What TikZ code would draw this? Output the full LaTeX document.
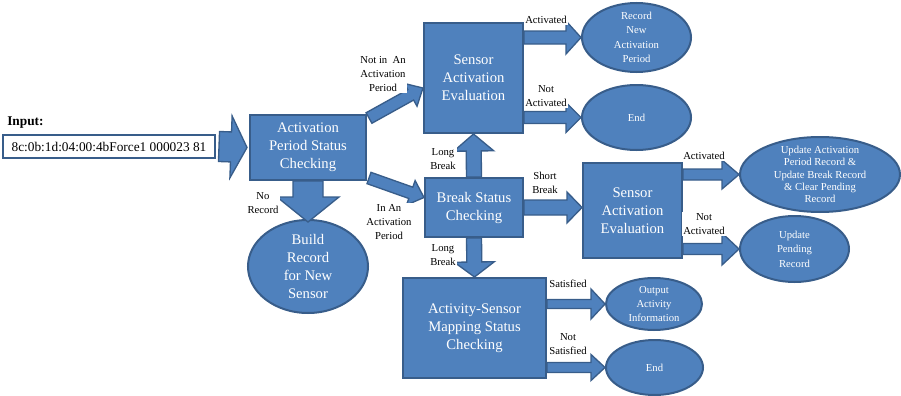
\documentclass[tikz,border=0pt]{standalone}
\usepackage{fontspec}
\setmainfont{Liberation Serif}
\usepackage{tikz}
\usetikzlibrary{shapes.geometric,calc}

\definecolor{boxblue}{HTML}{4F81BD}
\definecolor{boxline}{HTML}{385D8A}
\newcommand{\px}{0.75pt}

% block arrow: shaft half width, head half width, head length, from, to
\newcommand{\blockarrow}[5]{%
  \path #4; \pgfgetlastxy{\bax}{\bay}
  \path #5; \pgfgetlastxy{\bbx}{\bby}
  \pgfmathsetmacro{\barang}{atan2(\bby-\bay,\bbx-\bax)}
  \pgfmathsetmacro{\barlen}{veclen(\bbx-\bax,\bby-\bay)}
  \draw[bigarrow,shift={(\bax,\bay)},rotate=\barang]
    (0pt,{#1*\px}) -- ({\barlen*1pt-#3*\px},{#1*\px}) -- ({\barlen*1pt-#3*\px},{#2*\px})
    -- ({\barlen*1pt},0pt) -- ({\barlen*1pt-#3*\px},{-#2*\px}) -- ({\barlen*1pt-#3*\px},{-#1*\px})
    -- (0pt,{-#1*\px}) -- cycle;
}

\begin{document}
\begin{tikzpicture}[x=0.75pt,y=-0.75pt,
    dims/.style 2 args={minimum width=#1*\px,minimum height=#2*\px},
    box/.style={draw=boxline,fill=boxblue,line width=1.5pt,text=white,align=center,
                font=\fontsize{11}{13.5}\selectfont,inner sep=0pt},
    oval/.style={ellipse,draw=boxline,fill=boxblue,line width=1.5pt,inner sep=0pt},
    oval label/.style={text=white,align=center,font=\fontsize{8}{10.8}\selectfont},
    ovaltext/.style={label={[oval label]center:{#1}}},
    bigarrow/.style={draw=boxline,fill=boxblue,line width=1pt,line join=miter},
    lbl/.style={align=center,font=\fontsize{8}{10.8}\selectfont,fill=white,inner sep=1pt}]

  \useasboundingbox (0,0) rectangle (901,396);

  \node[anchor=west,font=\bfseries\fontsize{10}{12}\selectfont,inner sep=0pt] (inputlbl) at (7,123) {Input:};
  \node[draw=boxline,line width=1.5pt,fill=white,dims={212}{23},inner sep=0pt,
        font=\fontsize{10}{12}\selectfont] (input) at (109,146.5) {8c:0b:1d:04:00:4bForce1 000023 81};

  \node[box,dims={116}{65}] (apsc) at (308,147.5) {Activation\\Period Status\\Checking};
  \node[oval,dims={120}{93},label={[oval label,font=\fontsize{11}{13.3}\selectfont]center:{Build\\Record\\for New\\Sensor}}] (build) at (308,266.5) {};

  \node[box,dims={99}{110}] (sae) at (473.5,78) {Sensor\\Activation\\Evaluation};
  \node[oval,dims={109}{69},ovaltext={Record\\New\\Activation\\Period}] (rec) at (636.5,37.5) {};
  \node[oval,dims={109}{65},ovaltext={End}] (endtop) at (636.5,117.5) {};

  \node[box,dims={98}{59}] (bsc) at (474,207.5) {Break Status\\Checking};
  \node[box,dims={99}{95}] (sae2) at (632.5,210.5) {Sensor\\Activation\\Evaluation};
  \node[oval,dims={160}{75},label={[oval label,font=\fontsize{8}{9.3}\selectfont]center:{Update Activation\\Period Record \&\\Update Break Record\\\& Clear Pending\\Record}}] (upd) at (820,174.5) {};
  \node[oval,dims={109}{66},ovaltext={Update\\Pending\\Record}] (pend) at (794.5,249) {};

  \node[box,dims={143}{100}] (asmsc) at (474.5,328) {Activity-Sensor\\Mapping Status\\Checking};
  \node[oval,dims={96}{52},ovaltext={Output\\Activity\\Information}] (outp) at (654,304) {};
  \node[oval,dims={97}{55},ovaltext={End}] (endbot) at (654.5,367.5) {};

  \blockarrow{15}{31}{16}{($(input.east)+(3,0)$)}{($(apsc.west)+(-2,0)$)}
  \blockarrow{15}{31}{25}{(apsc.south)}{($(build.north)+(0,3)$)}
  \blockarrow{6}{13}{14}{($(apsc.north east)+(2,4)$)}{($(sae.west)+(0,10)$)}
  \blockarrow{6}{13}{14}{($(apsc.south east)+(2,-3)$)}{($(bsc.west)+(0,-10)$)}
  \blockarrow{6.5}{16.5}{15}{(sae.east |- rec.west)}{(rec.west)}
  \blockarrow{6}{15}{15}{(sae.east |- endtop.west)}{(endtop.west)}
  \blockarrow{7.5}{20}{17}{(bsc.north)}{(sae.south)}
  \blockarrow{7.5}{15.5}{15}{(bsc.east)}{(sae2.west |- bsc.east)}
  \blockarrow{7.5}{20}{15}{(bsc.south)}{(asmsc.north)}
  \blockarrow{5.5}{14.5}{17}{(sae2.east |- upd.west)}{(upd.west)}
  \blockarrow{5.5}{16}{17}{(sae2.east |- pend.west)}{(pend.west)}
  \blockarrow{4.5}{15}{14}{(asmsc.east |- outp.west)}{(outp.west)}
  \blockarrow{5}{13}{14}{(asmsc.east |- endbot.west)}{(endbot.west)}

  \node[lbl] (norecord) at (263,203) {No\\Record};
  \node[lbl] (notinperiod) at (383,74) {Not in~ An\\Activation\\Period};
  \node[lbl] (inperiod) at (389,222) {In An\\Activation\\Period};
  \node[lbl] (act1) at (546,20) {Activated};
  \node[lbl] (notact1) at (546,96) {Not\\Activated};
  \node[lbl] (longup) at (443,159) {Long\\Break};
  \node[lbl] (shortbrk) at (545,183) {Short\\Break};
  \node[lbl] (longdown) at (443,255) {Long\\Break};
  \node[lbl] (act2) at (704,156) {Activated};
  \node[lbl] (notact2) at (704,224) {Not\\Activated};
  \node[lbl] (sat) at (568,284) {Satisfied};
  \node[lbl] (notsat) at (568,344) {Not\\Satisfied};

\end{tikzpicture}
\end{document}
